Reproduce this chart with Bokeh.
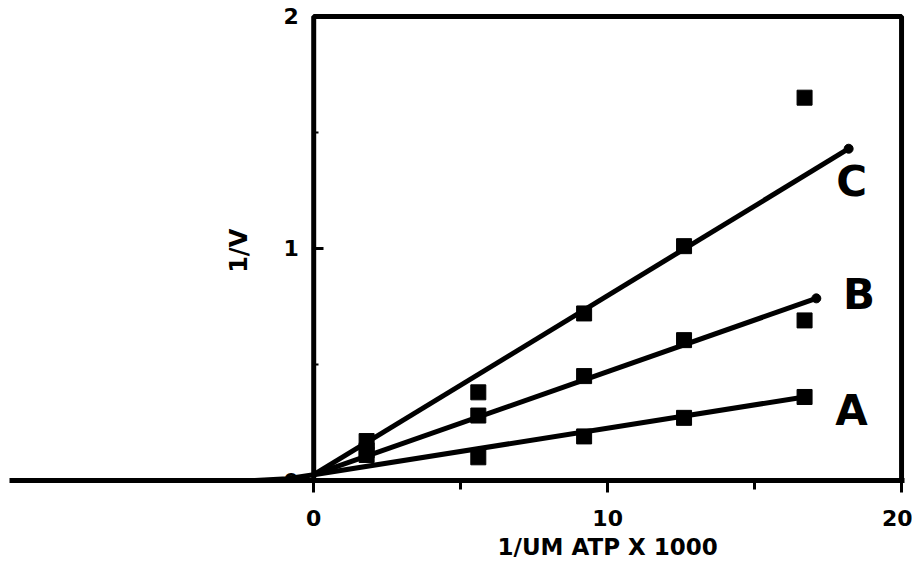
import math
from bokeh.plotting import figure
from bokeh.models import FixedTicker, BoxAnnotation, Label, Range1d, Title
from bokeh.embed import file_html
from bokeh.resources import INLINE
from bokeh.core.properties import value

# ---- data ----
x_pts = [1.8, 5.6, 9.2, 12.6, 16.7]
a_y = [0.11, 0.10, 0.19, 0.27, 0.36]
b_y = [0.13, 0.28, 0.45, 0.605, 0.69]
c_y = [0.17, 0.38, 0.72, 1.01, 1.65]

stem_x = [-2.0, -0.9, 0.0]
stem_y = [0.0, 0.008, 0.025]
fit_a_x = [0.0, 16.7]
fit_a_y = [0.025, 0.36]
fit_b_x = [0.0, 17.1]
fit_b_y = [0.025, 0.785]
fit_c_x = [0.0, 18.2]
fit_c_y = [0.025, 1.43]

label_text = ["A", "B", "C"]
label_x = [18.3, 18.55, 18.3]
label_y = [0.30, 0.80, 1.29]

x_ticks = [0, 10, 20]
x_minor = [5, 15]
y_ticks = [0, 1, 2]
y_minor = [0.5, 1.5]

x_title = "1/UM ATP X 1000"
y_title = "1/V"

FONT = "DejaVu Sans"

p = figure(frame_width=895, frame_height=474,
           x_range=Range1d(-10.35, 20.1), y_range=Range1d(0, 2.043),
           output_backend="svg", toolbar_location=None,
           min_border_left=9, min_border_right=8,
           min_border_top=6, min_border_bottom=10)
p.outline_line_color = None
p.grid.visible = False
p.background_fill_color = "white"

# x axis
xa = p.xaxis[0]
xa.ticker = FixedTicker(ticks=x_ticks, minor_ticks=x_minor)
xa.axis_line_width = 5
xa.major_tick_line_width = 3
xa.minor_tick_line_width = 3
xa.major_tick_out = 12
xa.major_tick_in = 0
xa.minor_tick_out = 9
xa.minor_tick_in = 0
xa.major_label_text_font = FONT
xa.major_label_text_font_style = "bold"
xa.major_label_text_font_size = "22px"
xa.major_label_standoff = 17
xa.major_label_text_color = "black"

# y axis at x = 0 (its line is drawn by the box frame)
ya = p.yaxis[0]
ya.fixed_location = 0
ya.ticker = FixedTicker(ticks=y_ticks, minor_ticks=y_minor)
ya.axis_line_color = None
ya.major_tick_line_width = 3
ya.minor_tick_line_width = 2
ya.major_tick_in = 10
ya.major_tick_out = 0
ya.minor_tick_in = 5
ya.minor_tick_out = 0
ya.major_label_text_font = FONT
ya.major_label_text_font_style = "bold"
ya.major_label_text_font_size = "22px"
ya.major_label_standoff = 15
ya.major_label_text_color = "black"

# box frame
p.add_layout(BoxAnnotation(left=0, right=20, bottom=0, top=2,
                           fill_alpha=0, line_color="black", line_alpha=1.0,
                           line_width=5))

# fitted lines
p.line(stem_x, stem_y, line_width=5, color="black")
p.line(fit_a_x, fit_a_y, line_width=5, color="black")
p.line(fit_b_x, fit_b_y, line_width=5, color="black")
p.line(fit_c_x, fit_c_y, line_width=5, color="black")
p.scatter([fit_b_x[-1], fit_c_x[-1]], [fit_b_y[-1], fit_c_y[-1]],
          size=9, color="black")

# data points
for ys in (a_y, b_y, c_y):
    p.scatter(x_pts, ys, marker="square", size=15, color="black")

# curve labels
p.text(x=label_x, y=label_y, text=label_text, text_font=value(FONT),
       text_font_style="bold", text_font_size="42px",
       text_align="center", text_baseline="middle", color="black")

# axis titles
p.add_layout(Title(text=x_title, align="left", offset=488,
                   text_font=FONT, text_font_style="bold",
                   text_font_size="23px", text_color="black",
                   standoff=6), "below")
p.add_layout(Label(x=0, y=0.99, x_offset=-75, text=y_title,
                   angle=math.pi / 2, text_font=FONT,
                   text_font_style="bold", text_font_size="24px",
                   text_align="center", text_baseline="middle",
                   text_color="black"))

open("out.html", "w").write(file_html(p, INLINE))
